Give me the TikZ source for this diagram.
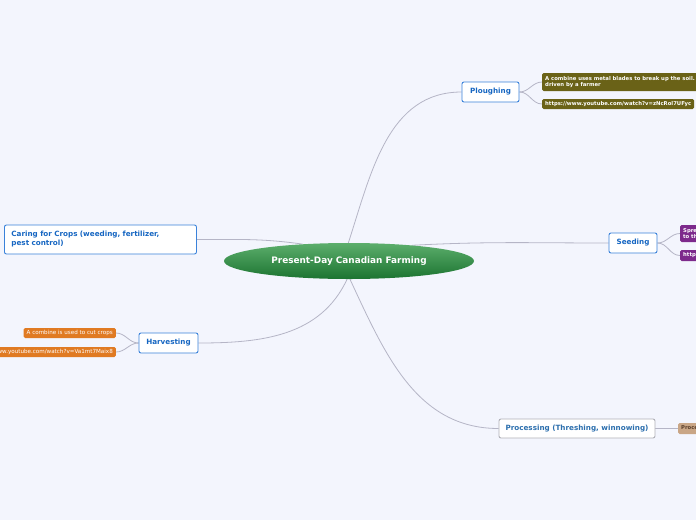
\documentclass[tikz,border=0pt]{standalone}
\usepackage{fontspec}
\setmainfont{DejaVu Sans}
\usetikzlibrary{shapes.geometric,backgrounds}
\definecolor{bgcol}{HTML}{F3F5FD}
\definecolor{linkgrey}{HTML}{B5B5C6}
\definecolor{topicblue}{HTML}{3A82DA}
\definecolor{topictext}{HTML}{1666C2}
\definecolor{procline}{HTML}{B0B0B8}
\definecolor{proctext}{HTML}{2C6FAE}
\definecolor{rootlight}{HTML}{5CAE6C}
\definecolor{rootdark}{HTML}{1C7431}
\definecolor{olive}{HTML}{6A6217}
\definecolor{plum}{HTML}{7D2A8C}
\definecolor{pumpkin}{HTML}{E07A22}
\definecolor{tan}{HTML}{C9A686}
\definecolor{tantext}{HTML}{5A3E2A}
\tikzstyle{root} = [ellipse, top color=rootlight, bottom color=rootdark, minimum width=250pt, minimum height=36pt, text=white, font=\fontsize{8.9}{10}\selectfont\bfseries]
\tikzstyle{topic} = [rectangle, rounded corners=2pt, draw=topicblue, line width=0.9pt, fill=white, text=topictext, font=\fontsize{7.2}{9}\selectfont\bfseries, minimum height=20pt, inner sep=0pt]
\tikzstyle{leaf} = [rectangle, rounded corners=1.5pt, text=white, font=\fontsize{5.3}{5.9}\selectfont\bfseries, inner xsep=3pt, inner ysep=1pt, align=left]
\tikzstyle{link} = [draw=linkgrey, line width=0.8pt]

\begin{document}
\begin{tikzpicture}[x=1pt, y=-1pt]
    \useasboundingbox (0,0) rectangle (696,520);
    \clip (0,0) rectangle (696,520);
    \node[root] (root) at (349,261) {Present-Day Canadian Farming};
    \node[topic, minimum width=57pt] (plough) at (490.5,92) {Ploughing};
    \node[topic, minimum width=48pt] (seed) at (633,243) {Seeding};
    \node[topic, minimum width=156pt, minimum height=19pt, draw=procline, text=proctext] (proc) at (577,428.5) {Processing (Threshing, winnowing)};
    \node[topic, minimum width=59pt] (harv) at (168.5,343) {Harvesting};
    \node[topic, anchor=west, minimum height=29pt, text width=178pt, align=left, inner xsep=7pt] (care) at (4,239.5) {Caring for Crops (weeding, fertilizer,\\pest control)};
    \node[leaf, fill=olive, anchor=west, minimum height=18pt] (pl1) at (542,82) {A combine uses metal blades to break up the soil. It is\\driven by a farmer};
    \node[leaf, fill=olive, anchor=west, minimum height=10pt] (pl2) at (542,104) {https://www.youtube.com/watch?v=zNcRol7UFyc};
    \node[leaf, fill=plum, anchor=west, minimum height=17pt] (sd1) at (680,233.5) {Spreading seeds\\to the field};
    \node[leaf, fill=plum, anchor=west, minimum height=11pt] (sd2) at (680,255.5) {https://www.youtube.com};
    \node[leaf, fill=tan, text=tantext, anchor=west, minimum height=11pt] (pr1) at (678,428.5) {Processing};
    \node[leaf, fill=pumpkin, anchor=east, minimum height=10pt, font=\fontsize{5.6}{6.2}\selectfont] (hv1) at (116,333) {A combine is used to cut crops};
    \node[leaf, fill=pumpkin, anchor=east, minimum height=10pt, font=\fontsize{5.6}{6.2}\selectfont] (hv2) at (116,352) {https://www.youtube.com/watch?v=Va1mt7Maix8};
    \begin{scope}[on background layer]
    \fill[bgcol] (0,0) rectangle (696,520);
    \draw[link]
    (root.92) edge[out=72, in=180] (plough.west)
    (root.14) edge[out=3, in=180] (seed.west)
    (root.-87) edge[out=-65, in=180] (proc.west)
    (root.-96) edge[out=-115, in=0] (harv.east)
    (root.160) edge[out=172, in=0] (care.east)
    (plough.east) edge[out=0, in=180] (pl1.west)
    (plough.east) edge[out=0, in=180] (pl2.west)
    (seed.east) edge[out=0, in=180] (sd1.west)
    (seed.east) edge[out=0, in=180] (sd2.west)
    (proc.east) edge[out=0, in=180] (pr1.west)
    (harv.west) edge[out=180, in=0] (hv1.east)
    (harv.west) edge[out=180, in=0] (hv2.east)
    ;
    \end{scope}
\end{tikzpicture}
\end{document}
